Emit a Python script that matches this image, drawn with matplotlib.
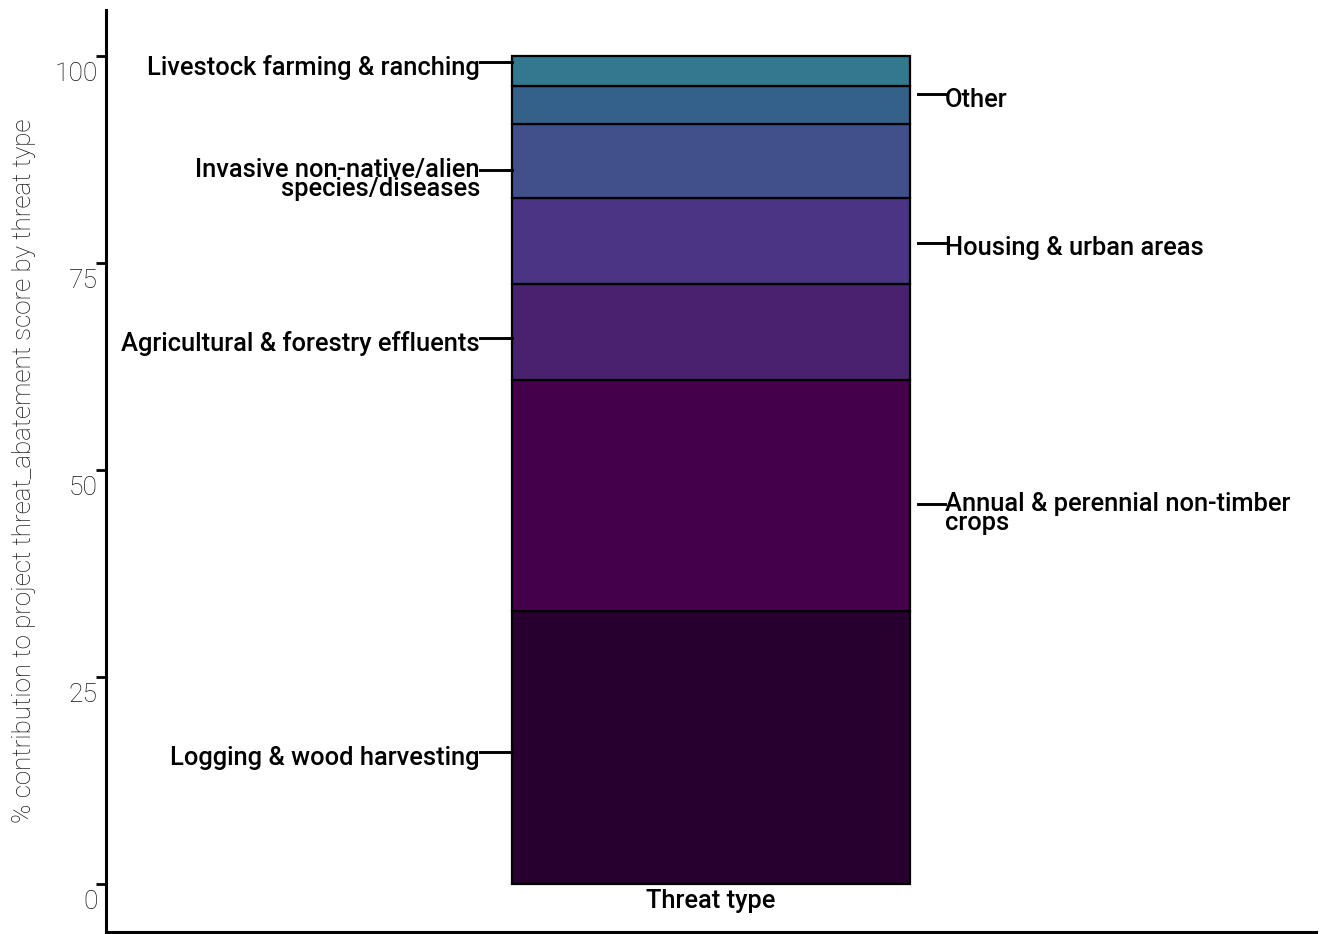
import matplotlib
matplotlib.use("Agg")
import matplotlib.pyplot as plt

categories = ["Logging & wood harvesting", "Annual & perennial non-timber\ncrops",
              "Agricultural & forestry effluents", "Housing & urban areas",
              "Invasive non-native/alien\nspecies/diseases", "Other",
              "Livestock farming & ranching"]
values = [33.0, 27.9, 11.6, 10.4, 8.9, 4.6, 3.6]
colors = ["#280030", "#45004b", "#48226f", "#4a3584", "#41508a", "#336189", "#33788e"]
sides = ["left", "right", "left", "right", "left", "right", "left"]
label_nudge = [-0.6, -1.0, -0.7, -0.25, -1.1, 1.3, 1.1]  # layout tweak (data units)
yticks = [0, 25, 50, 75, 100]
ytick_labels = ["0", "25", "50", "75", "100"]
xlabel = "Threat type"
ylabel = "% contribution to project threat_abatement score by threat type"

plt.rcParams['font.family'] = ['Roboto', 'DejaVu Sans']

fig = plt.figure(figsize=(13.24, 9.34), dpi=100)
ax = fig.add_axes([106/1324, 2/934, 1210/1324, 922/934])
ax.set_xlim(-1.5, 1.5)
ax.set_ylim(-5.8, 105.6)

FS = 18.4
bw = 0.985
bottom = 0.0
for cat, v, c, side, nd in zip(categories, values, colors, sides, label_nudge):
    ax.bar(0, v, bottom=bottom, width=bw, color=c, edgecolor="black", linewidth=1.6, zorder=2)
    ly = bottom + v / 2 + nd
    multi = "\n" in cat
    if side == "left":
        x0, x1 = -bw / 2, -0.573
        ha = "right"
    else:
        x0, x1 = 0.513, 0.58
        ha = "left"
    ax.plot([x0, x1], [ly, ly], color="black", lw=2.1, clip_on=False, zorder=3)
    if multi:
        ax.annotate(cat, xy=(x1, ly), xytext=(0, 8.5), textcoords="offset points",
                    ha=ha, va="top", fontsize=FS, fontweight="medium",
                    linespacing=0.72)
    else:
        ax.annotate(cat, xy=(x1, ly), xytext=(0, -3.8), textcoords="offset points",
                    ha=ha, va="center", fontsize=FS, fontweight="medium")
    bottom += v

ax.text(0, -0.6, xlabel, ha="center", va="top", fontsize=FS, fontweight="medium")

ax.set_xticks([])
ax.set_yticks(yticks)
ax.set_yticklabels([])
ax.tick_params(axis="y", length=7, width=2)
ytr = ax.get_yaxis_transform()
for t, s in zip(yticks, ytick_labels):
    ax.annotate(s, xy=(0, t), xycoords=ytr, xytext=(-6, -13), textcoords="offset points",
                ha="right", va="center", fontsize=19, fontweight="light", color="#111111",
                annotation_clip=False)
ax.set_ylabel(ylabel, fontsize=18.7, fontweight="light", color="#111111")
ax.yaxis.set_label_coords(-0.058, 0.5)

for s in ["top", "right"]:
    ax.spines[s].set_visible(False)
for s in ["left", "bottom"]:
    ax.spines[s].set_linewidth(2.2)

fig.savefig("out.png", dpi=100)
